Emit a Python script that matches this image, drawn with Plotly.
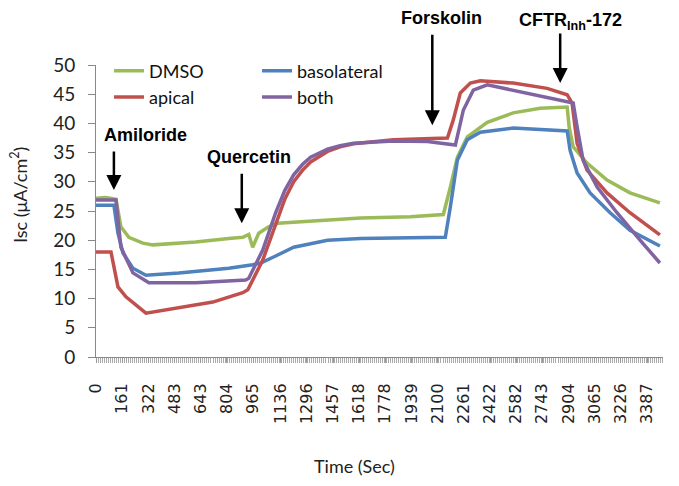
import plotly.graph_objects as go

# ---- data (time in seconds, Isc in µA/cm²) ----
dmso_t = [0, 60, 123, 153, 202, 288, 350, 613, 816, 902, 939, 963, 1000, 1061, 1117, 1319, 1626, 1933,
          2135, 2178, 2221, 2282, 2405, 2564, 2730, 2896, 2908, 2933, 3018, 3141, 3282, 3466]
dmso_y = [27.2, 27.3, 27.0, 22.3, 20.5, 19.5, 19.2, 19.7, 20.3, 20.5, 21.0, 18.8, 21.2, 22.3, 22.9, 23.3, 23.8, 24.0,
          24.4, 29.1, 34.2, 37.7, 40.2, 41.8, 42.6, 42.8, 39.4, 36.0, 33.2, 30.3, 28.1, 26.4]

baso_t = [0, 110, 135, 166, 227, 307, 509, 816, 963, 1012, 1104, 1215, 1423, 1626, 1933, 2147, 2178, 2221,
          2282, 2362, 2564, 2773, 2896, 2914, 2957, 3037, 3160, 3282, 3466]
baso_y = [26.0, 26.0, 21.2, 17.8, 15.2, 14.0, 14.4, 15.2, 15.8, 16.1, 17.3, 18.8, 20.0, 20.3, 20.4, 20.5, 25.7, 33.7,
          37.2, 38.5, 39.2, 38.9, 38.7, 35.4, 31.5, 28.1, 24.7, 21.7, 19.0]

apical_t = [0, 92, 135, 184, 307, 509, 718, 902, 933, 1025, 1104, 1160, 1215, 1270, 1319, 1423, 1500, 1583,
            1828, 2037, 2160, 2196, 2239, 2301, 2362, 2564, 2773, 2896, 2926, 2957, 3018, 3141, 3282, 3466]
apical_y = [18.0, 18.0, 12.0, 10.3, 7.5, 8.4, 9.4, 11.0, 11.5, 16.6, 22.9, 27.0, 30.0, 32.0, 33.4, 35.2, 36.0, 36.5,
            37.2, 37.4, 37.5, 40.6, 45.2, 46.9, 47.3, 46.9, 46.0, 44.9, 43.5, 36.6, 32.0, 28.1, 24.7, 20.9]

both_t = [0, 123, 153, 227, 325, 613, 920, 939, 1025, 1104, 1160, 1215, 1270, 1319, 1423, 1500, 1583, 1828,
          2037, 2160, 2209, 2258, 2319, 2405, 2564, 2773, 2933, 2957, 2994, 3080, 3202, 3344, 3466]
both_y = [26.9, 26.9, 18.8, 14.4, 12.7, 12.7, 13.2, 13.5, 18.3, 24.7, 28.5, 31.2, 33.0, 34.2, 35.6, 36.2, 36.6, 37.0,
          36.9, 36.4, 36.3, 42.3, 45.7, 46.6, 45.7, 44.5, 43.5, 39.4, 33.7, 29.1, 24.7, 20.0, 16.1]

x_ticks = [0, 161, 322, 483, 643, 804, 965, 1136, 1296, 1457, 1618, 1778, 1939, 2100, 2261, 2422,
           2582, 2743, 2904, 3065, 3226, 3387]

# drug additions: (label, tip time, tip Isc)
events = [("Amiloride", 110, 28.6), ("Quercetin", 896, 22.9),
          ("Forskolin", 2067, 39.7), ("CFTR<sub>Inh</sub>-172", 2853, 46.9)]

colors = {"DMSO": "#9BBB59", "basolateral": "#4F81BD", "apical": "#C0504D", "both": "#8064A2"}

fig = go.Figure()
series = [("DMSO", dmso_t, dmso_y, "legend"), ("basolateral", baso_t, baso_y, "legend2"),
          ("apical", apical_t, apical_y, "legend"), ("both", both_t, both_y, "legend2")]
for name, t, y, lg in series:
    fig.add_trace(go.Scatter(x=t, y=y, mode="lines", name=name, legend=lg,
                             line=dict(color=colors[name], width=3.5)))

tick_font = dict(color="#222")
leg_font = dict(family="Lato, sans-serif", size=18, color="#111")
fig.update_layout(
    width=679, height=486,
    margin=dict(l=88, r=24, t=57, b=137),
    paper_bgcolor="white", plot_bgcolor="white",
    showlegend=True,
    legend=dict(x=0.023, y=1.043, xanchor="left", yanchor="top", bgcolor="rgba(0,0,0,0)",
                font=leg_font, tracegroupgap=0),
    legend2=dict(x=0.284, y=1.043, xanchor="left", yanchor="top", bgcolor="rgba(0,0,0,0)",
                 font=leg_font, tracegroupgap=0),
    xaxis=dict(range=[0, 3485], tickmode="array", tickvals=x_ticks, ticktext=[str(v) for v in x_ticks],
               tickangle=-90, tickfont=dict(family="DejaVu Sans, sans-serif", size=16, **tick_font),
               showgrid=False, zeroline=False, ticklabelstandoff=14,
               showline=True, linecolor="#888", linewidth=1, ticks="outside", ticklen=5, tickcolor="#999",
               minor=dict(dtick=12.4, tick0=0, ticks="outside", ticklen=5, tickcolor="#aaa", showgrid=False)),
    yaxis=dict(range=[0, 50], dtick=5, tickfont=dict(family="Lato, sans-serif", size=19, **tick_font),
               showgrid=False, zeroline=False, ticklabelstandoff=9,
               showline=True, linecolor="#888", linewidth=1, ticks="outside", ticklen=7, tickcolor="#888"),
)

ann = []
ann.append(dict(text="Time (Sec)", xref="paper", yref="paper", x=(354 - 96) / 567, y=(357 - 466) / 292,
                xanchor="center", yanchor="middle", showarrow=False,
                font=dict(family="Lato, sans-serif", size=18, color="#222")))
ann.append(dict(text="Isc (μA/cm<sup>2</sup>)", xref="paper", yref="paper", x=(19 - 96) / 567,
                y=(357 - 195) / 292, xanchor="center", yanchor="middle", textangle=-90, showarrow=False,
                font=dict(family="Lato, sans-serif", size=18, color="#222")))

label_pos = {"Amiloride": ("x", "y", 307, 38.0),
             "Quercetin": ("x", "y", 939, 34.2),
             "Forskolin": ("paper", "paper", (441 - 96) / 567, (357 - 18) / 292),
             "CFTR<sub>Inh</sub>-172": ("paper", "paper", (570 - 96) / 567, (357 - 22) / 292)}
tails = {"Amiloride": -40, "Quercetin": -51, "Forskolin": -92, "CFTR<sub>Inh</sub>-172": -51}
for name, tt, yy in events:
    xr, yr, lx, ly = label_pos[name]
    ann.append(dict(text="<b>" + name + "</b>", x=lx, y=ly, xref=xr, yref=yr, showarrow=False,
                    xanchor="center", yanchor="middle",
                    font=dict(family="Liberation Sans, Arial, sans-serif", size=18, color="black")))
    ann.append(dict(text="", x=tt, y=yy, xref="x", yref="y", showarrow=True, ax=0, ay=tails[name],
                    arrowhead=2, arrowsize=1.2, arrowwidth=2.5, arrowcolor="black"))
fig.update_layout(annotations=ann)

fig.write_html("out.html")
